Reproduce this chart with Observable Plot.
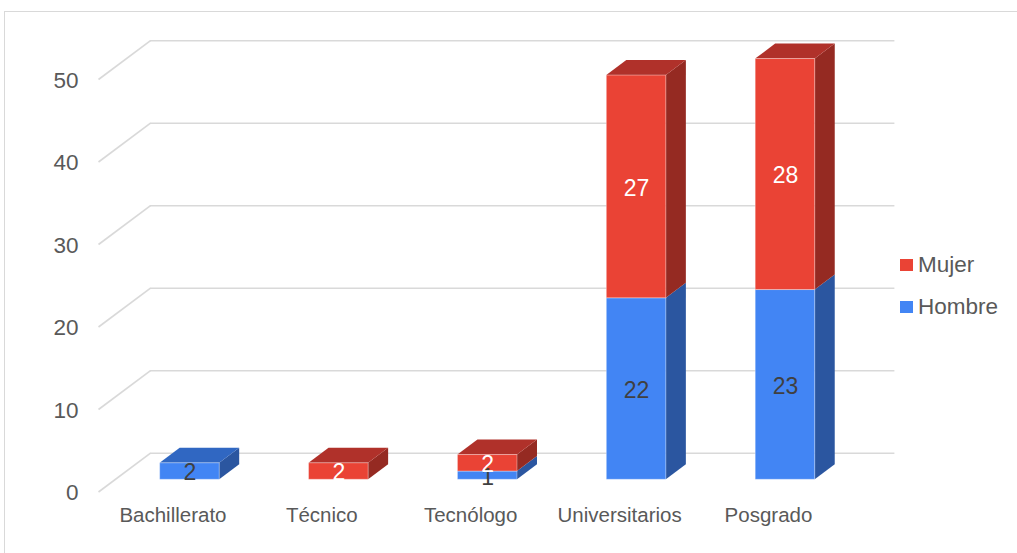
<!DOCTYPE html>
<html>
<head>
<meta charset="utf-8">
<script src="https://cdn.jsdelivr.net/npm/d3@7"></script>
<script src="https://cdn.jsdelivr.net/npm/@observablehq/plot@0.6"></script>
<style>
  html, body { margin: 0; padding: 0; background: #ffffff; overflow: hidden; }
  #wrap { position: relative; width: 1017px; height: 553px; overflow: hidden; font-family: "Liberation Sans", Arial, sans-serif; }
  #border { position: absolute; left: 4px; top: 11px; width: 1300px; height: 900px;
            border-left: 1.5px solid #d9d9d9; border-top: 1.5px solid #d9d9d9; }
  #chart { position: absolute; left: 0; top: 0; }
  #legend { position: absolute; left: 900px; top: 244px; color: #595959; font-size: 22.5px; }
  .item { display: flex; align-items: center; height: 42px; }
  .sw { width: 12.5px; height: 12.5px; margin-right: 5.5px; }
</style>
</head>
<body>
<div id="wrap">
  <div id="border"></div>
  <div id="chart"></div>
  <div id="legend"></div>
</div>
<script>
// ---- data ----
const categories = ["Bachillerato", "Técnico", "Tecnólogo", "Universitarios", "Posgrado"];
const hombre = [2, 0, 1, 22, 23];
const mujer  = [0, 2, 2, 27, 28];
const seriesNames = ["Hombre", "Mujer"];
const legendOrder = ["Mujer", "Hombre"];
const yTicks = [0, 10, 20, 30, 40, 50];

// ---- styling ----
const frontColor = {Hombre: "#4285F4", Mujer: "#EA4335"};
const sideColor  = {Hombre: "#2B56A0", Mujer: "#952A22"};
const topColor   = {Hombre: "#3067C2", Mujer: "#B0312A"};
const labelColor = {Hombre: "#404040", Mujer: "#ffffff"};

const W = 1017, H = 553, ML = 115, MR = 157.6, MT = 66.8, MB = 73.7;
const xDomain = [-0.5, categories.length - 0.5];
const yDomain = [0, 50];
const xUnit = (W - ML - MR) / (xDomain[1] - xDomain[0]);   // px per x unit
const yUnit = (H - MT - MB) / (yDomain[1] - yDomain[0]);   // px per y unit
const half = 0.2;                 // half bar width (x units)
const DX = 20 / xUnit, DY = 15 / yUnit;   // bar depth
const wallDx = 35, wallDy = -26.6;        // back wall offset (px)
const floorDx = -17, floorDy = 12.2;      // floor front offset (px)

// ---- derived geometry from data ----
const segs = [];
categories.forEach((c, i) => {
  let base = 0;
  const vals = {Hombre: hombre[i], Mujer: mujer[i]};
  seriesNames.forEach(s => {
    const v = vals[s];
    if (v > 0) segs.push({i, cat: c, series: s, value: v, y0: base, y1: base + v});
    base += v;
  });
});
const sideRows = segs.flatMap((d, k) => [
  {key: k, series: d.series, x: d.i + half, lo: d.y0, hi: d.y1},
  {key: k, series: d.series, x: d.i + half + DX, lo: d.y0 + DY, hi: d.y1 + DY}
]);
const tops = categories.map((c, i) => {
  const s = segs.filter(d => d.i === i);
  return s[s.length - 1];
});
const topRows = tops.flatMap((d, k) => [
  {key: k, series: d.series, y: d.y1, a: d.i - half, b: d.i + half},
  {key: k, series: d.series, y: d.y1 + DY, a: d.i - half + DX, b: d.i + half + DX}
]);

const marks = [
  // back wall gridlines
  Plot.ruleY(yTicks, {y: d => d, stroke: "#d9d9d9", strokeWidth: 1.6, dx: wallDx, dy: wallDy}),
  // floor-to-wall diagonals
  Plot.link(yTicks, {
    x1: () => xDomain[0] + floorDx / xUnit, y1: d => d - floorDy / yUnit,
    x2: () => xDomain[0] + wallDx / xUnit, y2: d => d - wallDy / yUnit,
    stroke: "#d9d9d9", strokeWidth: 1.6
  }),
  // tick labels
  Plot.text(yTicks, {x: () => xDomain[0], y: d => d, text: d => String(d), textAnchor: "end",
    dx: -37, dy: 13.4, fontSize: 22.5, fill: "#595959"}),
  // category labels
  Plot.text(categories, {x: (d, i) => i, y: () => 0, text: d => d, dx: floorDx, dy: 35.8,
    fontSize: 20.5, fill: "#595959"})
];
seriesNames.forEach(s => {
  marks.push(Plot.area(sideRows.filter(d => d.series === s),
    {x1: "x", y1: "lo", y2: "hi", z: "key", fill: sideColor[s]}));
  marks.push(Plot.area(topRows.filter(d => d.series === s),
    {y1: "y", x1: "a", x2: "b", z: "key", fill: topColor[s]}));
  marks.push(Plot.rect(segs.filter(d => d.series === s),
    {x1: d => d.i - half, x2: d => d.i + half, y1: "y0", y2: "y1",
     fill: frontColor[s], stroke: "#ffffff", strokeOpacity: 0.35, strokeWidth: 1}));
});
seriesNames.forEach(s => {
  marks.push(Plot.text(segs.filter(d => d.series === s),
    {x: "i", y: d => (d.y0 + d.y1) / 2, text: d => String(d.value), dy: 1.5,
     fontSize: 23, fill: labelColor[s]}));
});

const chart = Plot.plot({
  width: W, height: H,
  marginLeft: ML, marginRight: MR, marginTop: MT, marginBottom: MB,
  x: {type: "linear", domain: xDomain, axis: null},
  y: {type: "linear", domain: yDomain, axis: null},
  style: {fontFamily: "'Liberation Sans', Arial, sans-serif", background: "transparent", overflow: "visible"},
  marks
});
document.getElementById("chart").appendChild(chart);

const legend = document.getElementById("legend");
legendOrder.forEach(s => {
  const item = document.createElement("div");
  item.className = "item";
  const sw = document.createElement("span");
  sw.className = "sw";
  sw.style.background = frontColor[s];
  const label = document.createElement("span");
  label.textContent = s;
  item.appendChild(sw);
  item.appendChild(label);
  legend.appendChild(item);
});
</script>
</body>
</html>
